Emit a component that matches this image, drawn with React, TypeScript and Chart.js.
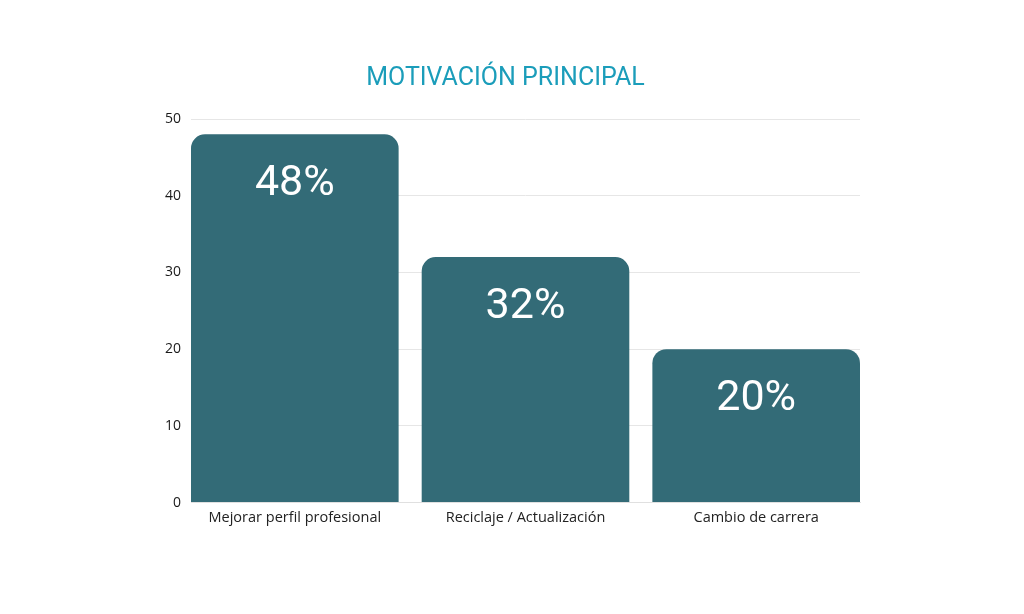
import React, { useEffect, useRef } from "react";
import { Chart, registerables } from "chart.js";

Chart.register(...registerables);

const categories = ["Mejorar perfil profesional", "Reciclaje / Actualización", "Cambio de carrera"];
const values = [48, 32, 20];
const yTicks = [0, 10, 20, 30, 40, 50];
const titleText = "MOTIVACIÓN PRINCIPAL";

const BAR_FRACTION = 0.9;

const valueLabelPlugin = {
  id: "valueLabels",
  afterDatasetsDraw(chart: any) {
    const { ctx } = chart;
    const meta = chart.getDatasetMeta(0);
    ctx.save();
    ctx.fillStyle = "#ffffff";
    ctx.font = "400 43px Roboto";
    ctx.textAlign = "center";
    ctx.textBaseline = "middle";
    meta.data.forEach((el: any, i: number) => {
      ctx.fillText(`${values[i]}%`, el.x, el.y + 50);
    });
    ctx.restore();
  },
};

export default function App() {
  const ref = useRef<HTMLCanvasElement | null>(null);
  useEffect(() => {
    if (!ref.current) return;
    const chart = new Chart(ref.current, {
      type: "bar",
      data: {
        datasets: [
          {
            data: values.map((v, i) => ({ x: i, y: v })),
            backgroundColor: "#336b77",
            borderRadius: { topLeft: 14, topRight: 14, bottomLeft: 0, bottomRight: 0 },
            borderSkipped: false,
            barPercentage: BAR_FRACTION,
            categoryPercentage: 1,
          },
        ],
      },
      options: {
        animation: false,
        responsive: true,
        maintainAspectRatio: false,
        layout: { padding: { left: 143, right: 156, top: 0, bottom: 72 } },
        plugins: {
          legend: { display: false },
          tooltip: { enabled: false },
          title: {
            display: true,
            text: titleText,
            color: "#1b9dba",
            font: { family: "Roboto", size: 25, weight: "normal" },
            padding: { top: 56, bottom: 25 },
          },
        },
        scales: {
          x: {
            type: "linear",
            min: -BAR_FRACTION / 2,
            max: categories.length - 1 + BAR_FRACTION / 2,
            offset: false,
            grid: { display: false, drawTicks: false },
            border: { display: true, color: "#e0e0e0" },
            ticks: {
              stepSize: 1,
              includeBounds: false,
              autoSkip: false,
              maxRotation: 0,
              padding: 7,
              color: "#222222",
              font: { family: "Open Sans", size: 14.5 },
              callback: (v: any) => (Number.isInteger(v) && categories[v] !== undefined ? categories[v] : ""),
            },
          },
          y: {
            min: 0,
            max: 50,
            afterBuildTicks: (s: any) => {
              s.ticks = yTicks.map((v) => ({ value: v }));
            },
            afterFit: (s: any) => {
              s.width = 40;
            },
            grid: { color: "#e6e6e6", drawTicks: false },
            border: { display: false },
            ticks: {
              padding: 10,
              color: "#1a1a1a",
              font: { family: "Open Sans", size: 14 },
            },
          },
        },
      },
      plugins: [valueLabelPlugin],
    });
    return () => chart.destroy();
  }, []);
  return (
    <div style={{ width: 1008, height: 598, position: "relative" }}>
      <canvas ref={ref} />
    </div>
  );
}
